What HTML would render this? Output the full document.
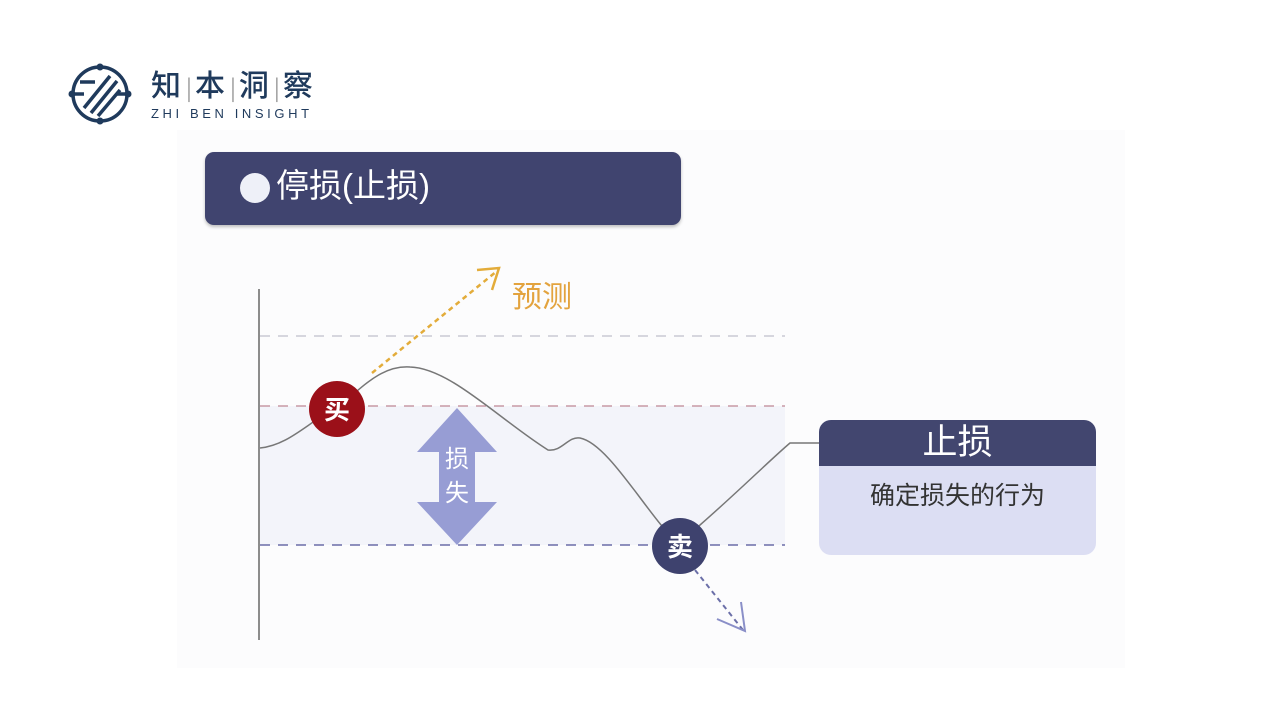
<!DOCTYPE html>
<html><head><meta charset="utf-8"><style>
body{margin:0;width:1267px;height:713px;background:#fff;position:relative;overflow:hidden;font-family:"Liberation Sans","Noto Sans CJK SC",sans-serif}
.abs{position:absolute}
</style></head><body>
<div class="abs" style="left:177px;top:130px;width:948px;height:538px;background:#fcfcfd"></div>
<svg class="abs" style="left:0;top:0" width="1267" height="713">
 <g stroke="#1f3a5c" fill="none" stroke-width="3.5">
  <circle cx="100" cy="94" r="27"/>
  <line x1="84" y1="108" x2="110" y2="76"/><line x1="91" y1="113" x2="117" y2="81"/><line x1="98" y1="116" x2="120" y2="90"/>
  <line x1="73" y1="94" x2="84" y2="94"/><line x1="116" y1="94" x2="127" y2="94"/><line x1="80" y1="82" x2="95" y2="82"/>
 </g>
 <g fill="#1f3a5c"><circle cx="72" cy="94" r="3.5"/><circle cx="128" cy="94" r="3.5"/><circle cx="100" cy="67" r="3.5"/><circle cx="100" cy="121" r="3.5"/></g>
 <rect x="260" y="406" width="525" height="139" fill="#f3f4fa"/>
 <line x1="259" y1="289" x2="259" y2="640" stroke="#666" stroke-width="1.5"/>
 <line x1="260" y1="336" x2="785" y2="336" stroke="#c9c9d3" stroke-width="1.5" stroke-dasharray="10 8"/>
 <line x1="260" y1="406" x2="785" y2="406" stroke="#c89aa5" stroke-width="1.5" stroke-dasharray="10 8"/>
 <line x1="260" y1="545" x2="785" y2="545" stroke="#6b6ca8" stroke-width="1.5" stroke-dasharray="10 8"/>
 <line x1="372" y1="373" x2="497" y2="271" stroke="#e3ac3a" stroke-width="2.5" stroke-dasharray="5 4"/>
 <polyline points="477,270 499,268 492,290" fill="none" stroke="#e3ac3a" stroke-width="2.5"/>
 <line x1="695" y1="570" x2="743" y2="630" stroke="#6b6fa8" stroke-width="2" stroke-dasharray="5 4"/>
 <polyline points="717,619 745,631 741,602" fill="none" stroke="#8a8fc8" stroke-width="2"/>
 <path d="M260,448 C290,445 310,420 337,408 C360,390 380,365 410,367 C450,368 500,420 548,450 C562,452 568,436 580,438 C610,444 650,520 680,545 L700,525 C740,490 770,460 790,443 L820,443" fill="none" stroke="#777" stroke-width="1.5"/>
 <polygon points="457,408 497,452 475,452 475,502 497,502 457,545 417,502 439,502 439,452 417,452" fill="#979dd4"/>
 <circle cx="337" cy="409" r="28" fill="#9b1019"/>
 <circle cx="680" cy="546" r="28" fill="#3e426e"/>
 <text x="337" y="419" font-size="26" font-weight="bold" fill="#fff" text-anchor="middle" font-family="Noto Sans CJK SC">买</text>
 <text x="680" y="556" font-size="26" font-weight="bold" fill="#fff" text-anchor="middle" font-family="Noto Sans CJK SC">卖</text>
 <text x="457" y="467" font-size="24" fill="#fff" text-anchor="middle" font-family="Noto Sans CJK SC">损</text>
 <text x="457" y="501" font-size="24" fill="#fff" text-anchor="middle" font-family="Noto Sans CJK SC">失</text>
 <text x="512" y="307" font-size="30" fill="#e3a33e" font-family="Noto Sans CJK SC">预测</text>
</svg>
<div class="abs" style="left:151px;top:64px;font-size:30px;font-weight:500;color:#1f3a5c;letter-spacing:5px;font-family:'Noto Sans CJK SC',sans-serif;line-height:38px">知<span style="font-weight:normal;color:#999;font-size:22px;letter-spacing:3px">|</span>本<span style="font-weight:normal;color:#999;font-size:22px;letter-spacing:3px">|</span>洞<span style="font-weight:normal;color:#999;font-size:22px;letter-spacing:3px">|</span>察</div>
<div class="abs" style="left:151px;top:106px;font-size:13px;color:#1f3a5c;letter-spacing:3.6px">ZHI BEN INSIGHT</div>
<div class="abs" style="left:205px;top:152px;width:476px;height:73px;background:#40446f;border-radius:9px;box-shadow:0 2px 3px rgba(0,0,0,.25)"></div>
<div class="abs" style="left:240px;top:173px;width:30px;height:30px;border-radius:50%;background:#eef0f8"></div>
<div class="abs" style="left:276px;top:164px;font-size:33px;color:#fff;line-height:44px">停损(止损)</div>
<div class="abs" style="left:819px;top:420px;width:277px;height:135px;background:#dcdef3;border-radius:12px;overflow:hidden">
 <div style="height:46px;background:#42466f;color:#fff;font-size:35px;text-align:center;line-height:46px">止损</div>
 <div style="text-align:center;font-size:25px;color:#333;margin-top:10px">确定损失的行为</div>
</div>
</body></html>
